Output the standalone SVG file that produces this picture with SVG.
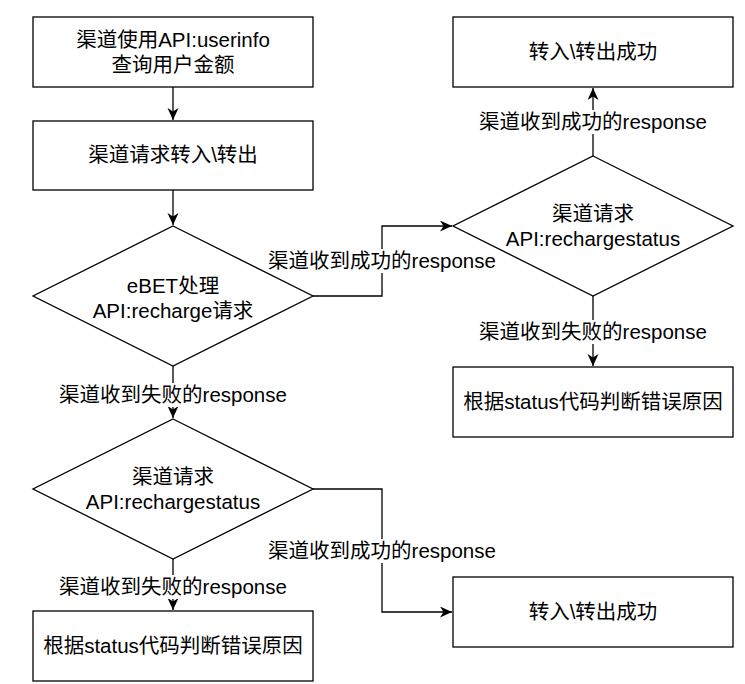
<svg xmlns="http://www.w3.org/2000/svg" width="745" height="684" viewBox="0 0 745 684">
<style>
.s{fill:#ffffff;stroke:#000000;stroke-width:1.3}
.t{font-family:"Liberation Sans","Noto Sans CJK SC",sans-serif;font-size:20.5px;fill:#000000;text-anchor:middle}
.c{fill:none;stroke:#000000;stroke-width:1.3}
.lb{fill:#ffffff}
</style>
<defs>
<marker id="ah" markerUnits="userSpaceOnUse" markerWidth="14" markerHeight="12" refX="12" refY="5.5" orient="auto">
<path d="M0,0 L12,5.5 L0,11 L3.5,5.5 z" fill="#000000"/>
</marker>
</defs>
<rect width="745" height="684" fill="#ffffff"/>
<g id="connectors">
<path class="c" d="M173,87 L173,120" marker-end="url(#ah)"/>
<path class="c" d="M173,190 L173,225" marker-end="url(#ah)"/>
<path class="c" d="M173,366 L173,418" marker-end="url(#ah)"/>
<path class="c" d="M173,559 L173,610" marker-end="url(#ah)"/>
<path class="c" d="M313,296 L382,296 L382,226 L452,226" marker-end="url(#ah)"/>
<path class="c" d="M313,489 L382,489 L382,612 L452,612" marker-end="url(#ah)"/>
<path class="c" d="M593,156 L593,88" marker-end="url(#ah)"/>
<path class="c" d="M593,296 L593,366" marker-end="url(#ah)"/>
<g id="labels">
<rect class="lb" x="59" y="383" width="228" height="24"/>
<text class="t" x="173" y="402">渠道收到失败的response</text>
<rect class="lb" x="59" y="575" width="228" height="24"/>
<text class="t" x="173" y="594">渠道收到失败的response</text>
<rect class="lb" x="268" y="249" width="228" height="24"/>
<text class="t" x="382" y="268">渠道收到成功的response</text>
<rect class="lb" x="268" y="539" width="228" height="24"/>
<text class="t" x="382" y="558">渠道收到成功的response</text>
<rect class="lb" x="479" y="110" width="228" height="24"/>
<text class="t" x="593" y="129">渠道收到成功的response</text>
<rect class="lb" x="479" y="320" width="228" height="24"/>
<text class="t" x="593" y="339">渠道收到失败的response</text>
</g>
</g>
<g id="n1">
<rect class="s" x="33" y="17" width="280" height="70"/>
<text class="t" x="173" y="47">渠道使用API:userinfo</text>
<text class="t" x="173" y="72">查询用户金额</text>
</g>
<g id="n2">
<rect class="s" x="33" y="121" width="280" height="69"/>
<text class="t" x="173" y="162">渠道请求转入\转出</text>
</g>
<g id="d1">
<path class="s" d="M173,226 L313,296 L173,366 L33,296 z"/>
<text class="t" x="173" y="293">eBET处理</text>
<text class="t" x="173" y="318">API:recharge请求</text>
</g>
<g id="d2">
<path class="s" d="M173,419 L313,489 L173,559 L33,489 z"/>
<text class="t" x="173" y="484">渠道请求</text>
<text class="t" x="173" y="509">API:rechargestatus</text>
</g>
<g id="n3">
<rect class="s" x="33" y="611" width="280" height="70"/>
<text class="t" x="173" y="653">根据status代码判断错误原因</text>
</g>
<g id="d3">
<path class="s" d="M593,156 L733,226 L593,296 L453,226 z"/>
<text class="t" x="593" y="221">渠道请求</text>
<text class="t" x="593" y="246">API:rechargestatus</text>
</g>
<g id="n4">
<rect class="s" x="453" y="17" width="280" height="70"/>
<text class="t" x="593" y="59">转入\转出成功</text>
</g>
<g id="n5">
<rect class="s" x="453" y="367" width="280" height="70"/>
<text class="t" x="593" y="409">根据status代码判断错误原因</text>
</g>
<g id="n6">
<rect class="s" x="453" y="577" width="280" height="70"/>
<text class="t" x="593" y="619">转入\转出成功</text>
</g>
</svg>
